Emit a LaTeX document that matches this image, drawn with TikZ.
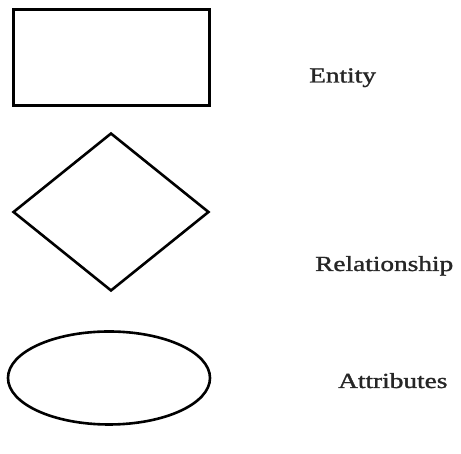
\documentclass[tikz,border=0pt]{standalone}
\usepackage{fontspec}
\newfontfamily\lblfont[FakeBold=1.2]{Liberation Serif}
\usetikzlibrary{shapes.geometric}
\newcommand{\widetext}[1]{\scalebox{1.27}[1]{#1}}
\begin{document}
\begin{tikzpicture}[x=1pt,y=1pt,
  shapebox/.style={draw=black,inner sep=0pt,line width=2.6pt},
  lbl/.style={anchor=base west,inner sep=0pt,text=black!85,font=\lblfont\fontsize{21.5}{26}\selectfont}]
\useasboundingbox (0,0) rectangle (461,454);
\node[shapebox,rectangle,line width=3pt,minimum width=195.5pt,minimum height=96.5pt] (entity) at (111.25,396.25) {};
\node[shapebox,diamond,minimum width=196pt,minimum height=158pt] (rel) at (111,242) {};
\node[shapebox,ellipse,minimum width=202pt,minimum height=93pt] (attr) at (109,76) {};
\node[lbl] (tentity) at (309,371.5) {\widetext{Entity}};
\node[lbl] (trel) at (315,183) {\widetext{Relationship}};
\node[lbl] (tattr) at (338,66) {\widetext{Attributes}};
\end{tikzpicture}
\end{document}
